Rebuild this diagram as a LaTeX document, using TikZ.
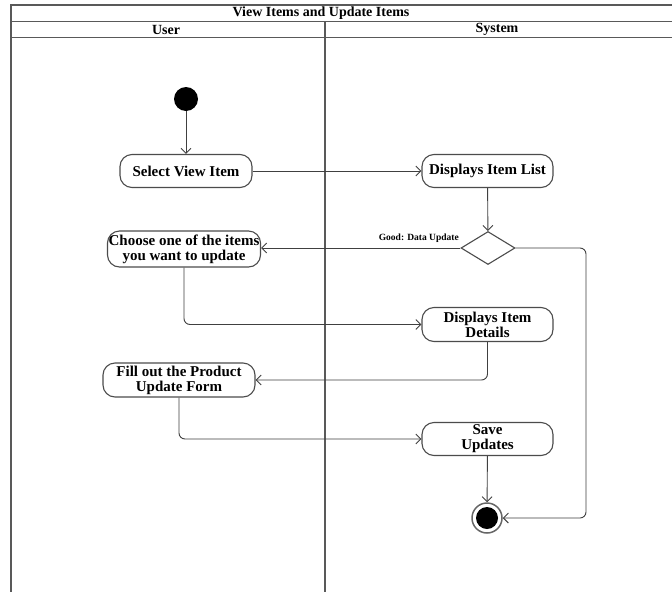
\documentclass[tikz,border=0pt]{standalone}
\usepackage{fontspec}
\setmainfont{Liberation Serif}
\usetikzlibrary{arrows.meta,shapes.geometric}
\begin{document}
\begin{tikzpicture}[x=1pt,y=-1pt,
  act/.style={draw=black!70, line width=1.1pt, rounded corners=12pt, fill=white,
    font=\fontsize{15}{15}\selectfont\bfseries, align=center,
    minimum width=131pt, minimum height=33pt, inner xsep=1pt, inner ysep=2pt},
  flow/.style={draw=black!75, line width=0.9pt, -{Straight Barb[length=5pt,width=10pt]}},
  lane/.style={draw=black!65, line width=1.3pt},
  hdr/.style={font=\fontsize{14}{14}\selectfont\bfseries, inner sep=0pt},
  guardlbl/.style={font=\fontsize{9.5}{9.5}\selectfont\bfseries, inner sep=1pt}]
\useasboundingbox (0,0) rectangle (672,592);
\fill[white] (0,0) rectangle (672,592);
% swimlane frame
\draw[lane] (672,5) -- (11,5) -- (11,592);
\draw[lane] (11,21.5) -- (672,21.5);
\draw[lane] (11,37.5) -- (672,37.5);
\draw[lane] (325,21.5) -- (325,592);
\node[hdr] (title) at (321,13.5) {View Items and Update Items};
\node[hdr] (user) at (166,29.5) {User};
\node[hdr] (system) at (497,29.5) {System};
% nodes
\node[circle, fill=black, minimum size=24pt, inner sep=0pt] (start) at (186,99) {};
\node[act, minimum width=132pt] (select) at (186,171) {Select View Item};
\node[act] (list) at (487.5,171) {Displays Item List};
\node[diamond, draw=black!70, line width=1.1pt, minimum width=54pt, minimum height=33pt, inner sep=0pt] (dec) at (488,248) {};
\node[act, minimum width=153pt, minimum height=36pt] (choose) at (184,249) {Choose one of the items\\you want to update};
\node[act, minimum height=34pt] (details) at (487.5,324.5) {Displays Item\\Details};
\node[act, minimum width=152pt, minimum height=34pt] (fill) at (179,380) {Fill out the Product\\Update Form};
\node[act, minimum height=33pt] (save) at (487.5,439) {Save\\Updates};
\node[circle, draw=black!60, line width=1.5pt, minimum size=30pt, inner sep=0pt,
  path picture={\fill[black] (path picture bounding box.center) circle (11pt);}] (final) at (487,518) {};
\node[guardlbl, anchor=south east] (guard) at (460,244) {Good: Data Update};
\coordinate (loop) at (586,248);
% connectors
\draw[flow] (start) -- (select);
\draw[flow] (select) -- (list);
\draw[flow] (list) -- (dec);
\draw[flow] (dec.west) -- (dec.west -| choose.east);
\draw[flow, rounded corners=6pt] (dec.east) -- (loop) |- (final.east);
\draw[flow, rounded corners=6pt] (choose.south) |- (details.west);
\draw[flow, rounded corners=6pt] (details.south) |- (fill.east);
\draw[flow, rounded corners=6pt] (fill.south) |- (save.west);
\draw[flow] (save) -- (final);
\end{tikzpicture}
\end{document}
